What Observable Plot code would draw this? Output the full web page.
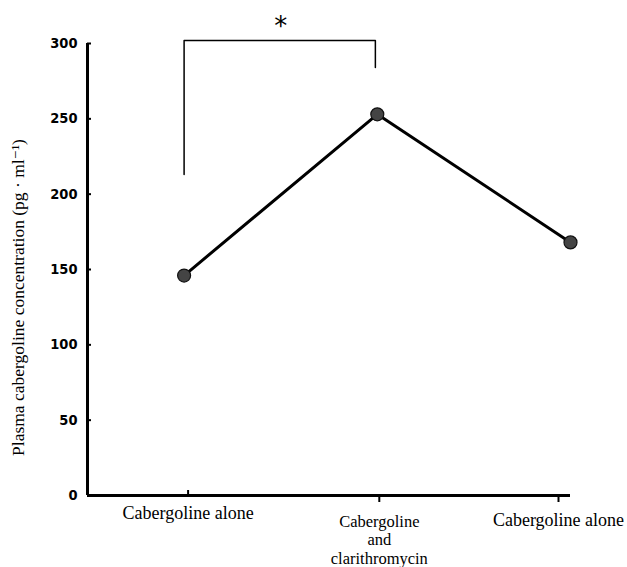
<!DOCTYPE html>
<html>
<head>
<meta charset="utf-8">
<script src="https://cdn.jsdelivr.net/npm/d3@7"></script>
<script src="https://cdn.jsdelivr.net/npm/@observablehq/plot@0.6"></script>
<style>
  html, body { margin: 0; padding: 0; background: #fff; }
  #chart svg { display: block; }
</style>
</head>
<body>
<div id="chart"></div>
<script>
// Data
const categories = ["Cabergoline alone", "Cabergoline\nand\nclarithromycin", "Cabergoline alone"];
const positions = [1, 2, 3];
const concentration = [146, 253, 168];
const yTicks = [0, 50, 100, 150, 200, 250, 300];
const bracketX = [1, 1, 1.99, 1.99];
const bracketY = [213, 302, 302, 284];
const starLabel = "*";
const yTitle = "Plasma cabergoline concentration (pg · ml\u207B\u00B9)";

const points = positions.map((p, i) => ({x: p, y: concentration[i]}));
const bracket = bracketX.map((x, i) => ({x, y: bracketY[i]}));

const tickFont = "'DejaVu Sans Condensed', 'Liberation Sans Narrow', sans-serif";
const serif = "'Liberation Serif', 'DejaVu Serif', serif";

const chart = Plot.plot({
  width: 627,
  height: 567,
  marginLeft: 87,
  marginRight: 57,
  marginTop: 43,
  marginBottom: 72,
  style: {background: "#fff", color: "#000"},
  x: {type: "linear", domain: [0.5, 3]},
  y: {domain: [0, 300]},
  marks: [
    // y axis ticks and labels
    Plot.axisY({
      ticks: yTicks,
      tickSize: -4,
      tickPadding: 14,
      strokeWidth: 2,
      fontFamily: tickFont,
      fontWeight: "bold",
      fontSize: 14.5,
      label: null
    }),
    // x axis ticks (upward) and labels
    Plot.axisX([1], {
      tickSize: -5, strokeWidth: 2, label: null,
      tickFormat: () => categories[0],
      fontFamily: serif, fontSize: 18, tickPadding: 16, dx: 4, dy: 0
    }),
    Plot.axisX([2], {
      tickSize: -5, strokeWidth: 2, label: null,
      tickFormat: () => categories[1],
      fontFamily: serif, fontSize: 16.5, tickPadding: 16, dx: 2, dy: 7, lineHeight: 1.13
    }),
    Plot.axisX([3], {
      tickSize: -5, strokeWidth: 2, label: null,
      tickFormat: () => categories[2],
      fontFamily: serif, fontSize: 18, tickPadding: 16, dx: -12, dy: 7
    }),
    Plot.ruleX([0.5], {y1: 0, y2: 300, stroke: "#000", strokeWidth: 3}),
    Plot.ruleY([0], {x1: 0.5, x2: 3, stroke: "#000", strokeWidth: 3}),
    // significance bracket
    Plot.line(bracket, {x: "x", y: "y", stroke: "#000", strokeWidth: 1.5}),
    Plot.text([starLabel], {x: () => 1.5, y: () => 311, fontSize: 26, fontFamily: "'DejaVu Sans', sans-serif", fill: "#000"}),
    // data line and points
    Plot.line(points, {x: "x", y: "y", stroke: "#000", strokeWidth: 3}),
    Plot.dot(points, {x: "x", y: "y", r: 6.5, fill: "#444", stroke: "#111", strokeWidth: 1.2}),
    // y title
    Plot.text([yTitle], {
      frameAnchor: "left", textAnchor: "middle", dx: -69, dy: 28, rotate: -90,
      fontFamily: serif, fontSize: 17.5, fill: "#000"
    })
  ]
});
document.getElementById("chart").appendChild(chart);
</script>
</body>
</html>
